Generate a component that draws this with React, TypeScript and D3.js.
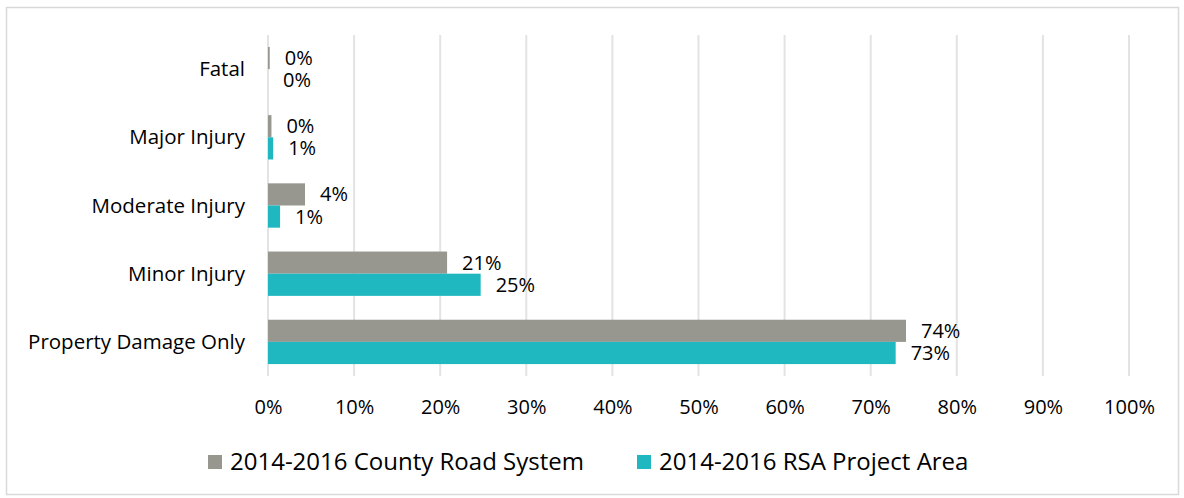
import { useRef, useEffect } from 'react';
import * as d3 from 'd3';

const CATEGORIES = ['Fatal', 'Major Injury', 'Moderate Injury', 'Minor Injury', 'Property Damage Only'];
const COUNTY = [0.002, 0.004, 0.043, 0.208, 0.741];
const RSA = [0.0, 0.006, 0.014, 0.247, 0.729];
const COUNTY_LABELS = ['0%', '0%', '4%', '21%', '74%'];
const RSA_LABELS = ['0%', '1%', '1%', '25%', '73%'];
const TICKS = [0, 0.1, 0.2, 0.3, 0.4, 0.5, 0.6, 0.7, 0.8, 0.9, 1.0];
const SERIES_NAMES = ['2014-2016 County Road System', '2014-2016 RSA Project Area'];
const COLORS = ['#979790', '#1fb8c1'];

const FONT = '"Open Sans", "Noto Sans", sans-serif';

export default function App() {
  const ref = useRef<SVGSVGElement>(null);

  useEffect(() => {
    const width = 1184, height = 498;
    const svg = d3.select(ref.current);
    svg.selectAll('*').remove();
    svg.attr('width', width).attr('height', height).attr('viewBox', `0 0 ${width} ${height}`);

    // Chart border
    svg.append('rect')
      .attr('x', 6.5).attr('y', 7.5).attr('width', 1172).attr('height', 487)
      .attr('fill', '#fff').attr('stroke', '#d9d9d9').attr('stroke-width', 1.5);

    const margin = { top: 35, left: 268, right: 55, bottom: 122 };
    const innerW = width - margin.left - margin.right;
    const innerH = height - margin.top - margin.bottom;

    const x = d3.scaleLinear().domain([0, 1]).range([0, innerW]);
    const y = d3.scaleBand().domain(CATEGORIES).range([0, innerH]).paddingInner(0.35).paddingOuter(0.175);
    const sub = d3.scaleBand().domain(['0', '1']).range([0, y.bandwidth()]);

    const g = svg.append('g').attr('transform', `translate(${margin.left},${margin.top})`);

    // Gridlines
    g.append('g').selectAll('line').data(TICKS).join('line')
      .attr('x1', d => x(d)).attr('x2', d => x(d))
      .attr('y1', 0).attr('y2', innerH)
      .attr('stroke', '#e3e3e3').attr('stroke-width', 2);

    // Bars + value labels
    const series = [COUNTY, RSA];
    const labels = [COUNTY_LABELS, RSA_LABELS];
    series.forEach((vals, si) => {
      g.append('g').selectAll('rect').data(vals).join('rect')
        .attr('x', x(0))
        .attr('y', (_d, i) => (y(CATEGORIES[i]) ?? 0) + (sub(String(si)) ?? 0))
        .attr('width', d => x(d) - x(0))
        .attr('height', sub.bandwidth())
        .attr('fill', COLORS[si]);

      g.append('g').selectAll('text').data(vals).join('text')
        .attr('x', d => x(d) + 15)
        .attr('y', (_d, i) => (y(CATEGORIES[i]) ?? 0) + (sub(String(si)) ?? 0) + sub.bandwidth() / 2)
        .attr('dy', '0.35em')
        .attr('font-family', FONT).attr('font-size', 20).attr('fill', '#000')
        .text((_d, i) => labels[si][i]);
    });

    // Category labels
    g.append('g').selectAll('text').data(CATEGORIES).join('text')
      .attr('x', -23)
      .attr('y', d => (y(d) ?? 0) + y.bandwidth() / 2)
      .attr('dy', '0.35em').attr('text-anchor', 'end')
      .attr('font-family', FONT).attr('font-size', 20.5).attr('fill', '#000')
      .text(d => d);

    // X axis
    g.append('g').attr('transform', `translate(0,${innerH})`)
      .call(d3.axisBottom(x).tickValues(TICKS).tickSize(0).tickPadding(24).tickFormat(d3.format('.0%')))
      .call(a => a.select('.domain').remove())
      .selectAll('text').attr('font-family', FONT).attr('font-size', 20).attr('fill', '#000');

    // Legend
    const legendItems = [
      { x: 208, name: SERIES_NAMES[0], color: COLORS[0] },
      { x: 637, name: SERIES_NAMES[1], color: COLORS[1] },
    ];
    const lg = svg.append('g').attr('transform', 'translate(0,462)');
    legendItems.forEach(it => {
      lg.append('rect').attr('x', it.x).attr('y', -7).attr('width', 14).attr('height', 14).attr('fill', it.color);
      lg.append('text').attr('x', it.x + 22).attr('y', 0).attr('dy', '0.35em')
        .attr('font-family', FONT).attr('font-size', 24).attr('fill', '#000')
        .text(it.name);
    });
  }, []);

  return <svg ref={ref} style={{ display: 'block', position: 'absolute', left: 0, top: 0 }} />;
}
